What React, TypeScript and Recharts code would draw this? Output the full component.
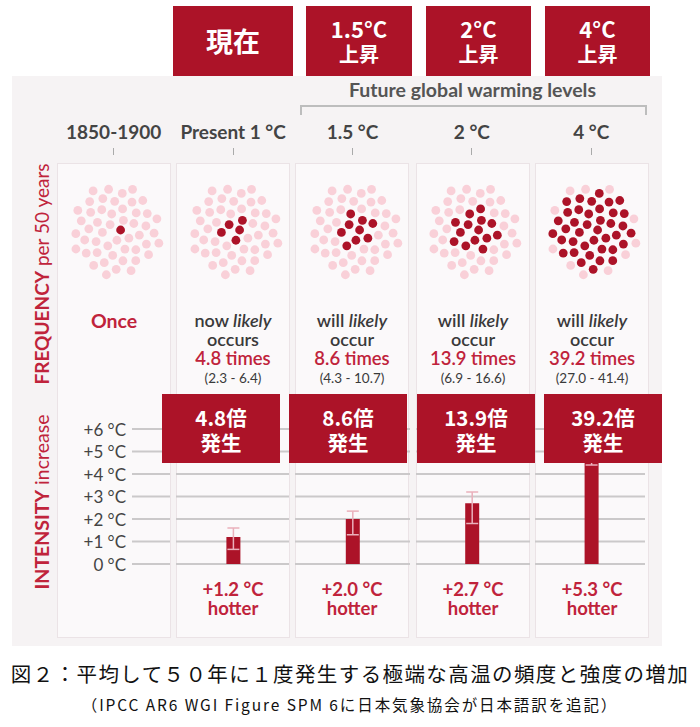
import React from "react";
import {
  ScatterChart,
  Scatter,
  BarChart,
  Bar,
  ErrorBar,
  XAxis,
  YAxis,
  CartesianGrid,
} from "recharts";

// ---- data ----
const COLUMNS = ["1850-1900", "Present 1 °C", "1.5 °C", "2 °C", "4 °C"];
const TOP_LABELS = [["現在"], ["1.5°C", "上昇"], ["2°C", "上昇"], ["4°C", "上昇"]];
const TIMES = [1, 4.8, 8.6, 13.9, 39.2];
const TIMES_RANGE = ["", "(2.3 - 6.4)", "(4.3 - 10.7)", "(6.9 - 16.6)", "(27.0 - 41.4)"];
const FREQ_LEAD = ["", "now", "will", "will", "will"];
const FREQ_VERB = ["", "occurs", "occur", "occur", "occur"];
const HOTTER = [null, 1.2, 2.0, 2.7, 5.3];
const HOTTER_LOW = [null, 0.65, 1.3, 1.8, 4.4];
const HOTTER_HIGH = [null, 1.6, 2.35, 3.2, 6.2];
const BOX_LABELS = ["4.8倍", "8.6倍", "13.9倍", "39.2倍"];
const Y_TICKS = [0, 1, 2, 3, 4, 5, 6];
const DOTS_PER_50_YEARS = 50;

// ---- colours ----
const DARK_RED = "#ac1328";
const TEXT_RED = "#c0233b";
const LIGHT_DOT = "#f9d0d8";
const PANEL_BG = "#f6f3f4";
const CARD_BG = "#fbf9fa";
const CARD_BORDER = "#ebe3e6";
const GRID = "#cbc9ca";
const LATO = "Lato, 'Noto Sans', sans-serif";
const JP = "'Noto Sans CJK JP', sans-serif";

// ---- layout ----
const CARD_LEFT = [57, 176, 295, 416, 535];
const CARD_W = 114;
const TOP_BOX_LEFT = [173, 306, 426, 545];
const TOP_BOX_W = [120, 106, 105, 105];
const MID_BOX_LEFT = [162, 289, 417, 544];
const MID_BOX_W = 118;
const CHART_LEFT = 54;
const CHART_W = 597;
const colCenter = (i: number) => CHART_LEFT + (CHART_W / 5) * (i + 0.5);

// dot cluster layout (sunflower packing), dark dots taken from the centre outwards
const DOT_SPREAD = 46 / Math.sqrt(DOTS_PER_50_YEARS);
const dotSpots = Array.from({ length: DOTS_PER_50_YEARS }, (_, k) => {
  const r = DOT_SPREAD * Math.sqrt(k + 0.5);
  const a = k * 2.39996;
  return { x: r * Math.cos(a), y: r * Math.sin(a) };
});

const barData = COLUMNS.map((name, i) => {
  const v = HOTTER[i];
  return {
    name,
    value: v,
    err: v == null ? null : [v - (HOTTER_LOW[i] as number), (HOTTER_HIGH[i] as number) - v],
  };
});

const dotShape = (fill: string) => (p: any) =>
  <circle cx={p.cx} cy={p.cy} r={4.4} fill={fill} />;

function DotCluster({ times }: { times: number }) {
  const n = Math.round(times);
  const dark = dotSpots.slice(0, n);
  const light = dotSpots.slice(n);
  return (
    <ScatterChart width={110} height={110} margin={{ top: 0, right: 0, bottom: 0, left: 0 }}>
      <XAxis type="number" dataKey="x" domain={[-55, 55]} hide />
      <YAxis type="number" dataKey="y" domain={[-55, 55]} hide />
      <Scatter data={light} shape={dotShape(LIGHT_DOT)} isAnimationActive={false} />
      <Scatter data={dark} shape={dotShape(DARK_RED)} isAnimationActive={false} />
    </ScatterChart>
  );
}

const abs = (left: number, top: number, extra: React.CSSProperties = {}): React.CSSProperties => ({
  position: "absolute",
  left,
  top,
  ...extra,
});

export default function App() {
  return (
    <div style={{ position: "absolute", left: 0, top: 0, width: 700, height: 727, background: "#fff", overflow: "hidden" }}>
      {/* grey panel */}
      <div style={abs(12, 76, { width: 650, height: 570, background: PANEL_BG })} />

      {/* top red boxes */}
      {TOP_LABELS.map((lines, i) => (
        <div
          key={"top" + i}
          style={abs(TOP_BOX_LEFT[i], 6, {
            width: TOP_BOX_W[i],
            height: 70,
            background: DARK_RED,
            color: "#fff",
            fontFamily: JP,
            fontWeight: 700,
            textAlign: "center",
          })}
        >
          {lines.length === 1 ? (
            <div style={{ fontSize: 27, lineHeight: "70px" }}>{lines[0]}</div>
          ) : (
            <>
              <div style={{ fontSize: 22, lineHeight: "26px", paddingTop: 9 }}>{lines[0]}</div>
              <div style={{ fontSize: 20, lineHeight: "26px" }}>{lines[1]}</div>
            </>
          )}
        </div>
      ))}

      {/* future warming bracket */}
      <div
        style={abs(300, 78, {
          width: 345,
          textAlign: "center",
          fontFamily: LATO,
          fontWeight: 700,
          fontSize: 19.5,
          color: "#555",
          whiteSpace: "nowrap",
        })}
      >
        Future global warming levels
      </div>
      <div style={abs(300, 105, { width: 343, height: 8, borderTop: "2px solid #bdbdbd", borderLeft: "2px solid #bdbdbd", borderRight: "2px solid #bdbdbd" })} />

      {/* column headers */}
      {COLUMNS.map((c, i) => (
        <React.Fragment key={"hd" + i}>
          <div
            style={abs(colCenter(i) - 60, 120, {
              width: 120,
              textAlign: "center",
              fontFamily: LATO,
              fontWeight: 700,
              fontSize: 19,
              color: "#444",
              whiteSpace: "nowrap",
            })}
          >
            {c}
          </div>
          <div style={abs(colCenter(i) - 0.5, 148, { width: 1, height: 7, background: "#aaa" })} />
        </React.Fragment>
      ))}

      {/* cards */}
      {CARD_LEFT.map((l, i) => (
        <div
          key={"card" + i}
          style={abs(l, 163, {
            width: CARD_W,
            height: 475,
            background: CARD_BG,
            border: `1px solid ${CARD_BORDER}`,
            boxSizing: "border-box",
          })}
        />
      ))}

      {/* side labels */}
      <div
        style={abs(41, 274, {
          transform: "translate(-50%, -50%) rotate(-90deg)",
          whiteSpace: "nowrap",
          fontFamily: LATO,
          fontSize: 19,
          color: TEXT_RED,
        })}
      >
        <b>FREQUENCY</b> per 50 years
      </div>
      <div
        style={abs(41, 502, {
          transform: "translate(-50%, -50%) rotate(-90deg)",
          whiteSpace: "nowrap",
          fontFamily: LATO,
          fontSize: 19.5,
          color: TEXT_RED,
        })}
      >
        <b>INTENSITY</b> increase
      </div>

      {/* dot clusters */}
      {TIMES.map((t, i) => (
        <div key={"dots" + i} style={abs(colCenter(i) - 55 + 2, 175)}>
          <DotCluster times={t} />
        </div>
      ))}

      {/* frequency wording */}
      {TIMES.map((t, i) => (
        <div
          key={"freq" + i}
          style={abs(CARD_LEFT[i] - 3, 311, {
            width: CARD_W + 6,
            textAlign: "center",
            fontFamily: LATO,
            fontSize: 18,
            fontWeight: 600,
            lineHeight: "19px",
            color: "#3a3a3a",
            whiteSpace: "nowrap",
          })}
        >
          {i === 0 ? (
            <div style={{ color: TEXT_RED, fontWeight: 700, fontSize: 19.5 }}>Once</div>
          ) : (
            <>
              <div>
                {FREQ_LEAD[i]} <i>likely</i>
              </div>
              <div>{FREQ_VERB[i]}</div>
              <div style={{ color: TEXT_RED, fontSize: 18.5 }}>{t.toFixed(1)} times</div>
              <div style={{ fontSize: 13.5, lineHeight: "20px", fontWeight: 400 }}>{TIMES_RANGE[i]}</div>
            </>
          )}
        </div>
      ))}

      {/* intensity bars */}
      <div style={abs(CHART_LEFT, 419)}>
        <BarChart
          width={CHART_W}
          height={160}
          data={barData}
          margin={{ top: 10, right: 0, bottom: 15, left: 0 }}
        >
          <CartesianGrid
            vertical={false}
            horizontal={(p: any) => (
              <line
                key={"g" + p.index + "-" + p.y1}
                x1={132 - CHART_LEFT}
                x2={645 - CHART_LEFT}
                y1={p.y1}
                y2={p.y2}
                stroke={GRID}
                strokeWidth={2}
                strokeDasharray="38 6 113 6 115 6 114 5 110 100"
              />
            )}
          />
          <XAxis dataKey="name" hide />
          <YAxis
            type="number"
            domain={[0, 6]}
            allowDataOverflow
            ticks={Y_TICKS}
            interval={0}
            mirror
            axisLine={false}
            tickLine={false}
            tick={(p: any) => (
              <text
                x={126 - CHART_LEFT}
                y={p.y}
                textAnchor="end"
                dominantBaseline="central"
                fontFamily={LATO}
                fontSize={17}
                fill="#444"
              >
                {p.payload.value === 0 ? "0 °C" : `+${p.payload.value} °C`}
              </text>
            )}
          />
          <Bar dataKey="value" fill={DARK_RED} barSize={14} isAnimationActive={false}>
            <ErrorBar dataKey="err" width={6} stroke="#eab0bb" strokeWidth={1.5} />
          </Bar>
        </BarChart>
      </div>

      {/* hotter labels */}
      {HOTTER.map((h, i) =>
        h == null ? null : (
          <div
            key={"hot" + i}
            style={abs(CARD_LEFT[i] - 3, 580, {
              width: CARD_W + 6,
              textAlign: "center",
              fontFamily: LATO,
              fontWeight: 700,
              fontSize: 18.5,
              lineHeight: "19px",
              color: TEXT_RED,
              whiteSpace: "nowrap",
            })}
          >
            <div>+{h.toFixed(1)} °C</div>
            <div>hotter</div>
          </div>
        )
      )}

      {/* middle red boxes */}
      {BOX_LABELS.map((b, i) => (
        <div
          key={"mid" + i}
          style={abs(MID_BOX_LEFT[i], 394, {
            width: MID_BOX_W,
            height: 69,
            background: DARK_RED,
            color: "#fff",
            fontFamily: JP,
            fontWeight: 700,
            fontSize: 20.5,
            lineHeight: "25px",
            paddingTop: 11,
            boxSizing: "border-box",
            textAlign: "center",
          })}
        >
          <div>{b}</div>
          <div>発生</div>
        </div>
      ))}

      {/* caption */}
      <div
        style={abs(0, 658, {
          width: 700,
          textAlign: "center",
          fontFamily: JP,
          fontSize: 20.5,
          letterSpacing: 1.4,
          color: "#111",
          whiteSpace: "nowrap",
        })}
      >
        図２：平均して５０年に１度発生する極端な高温の頻度と強度の増加
      </div>
      <div
        style={abs(0, 693, {
          width: 700,
          textAlign: "center",
          fontFamily: JP,
          fontSize: 15.5,
          letterSpacing: 1.9,
          color: "#111",
          whiteSpace: "nowrap",
        })}
      >
        （IPCC AR6 WGI Figure SPM 6に日本気象協会が日本語訳を追記）
      </div>
    </div>
  );
}
